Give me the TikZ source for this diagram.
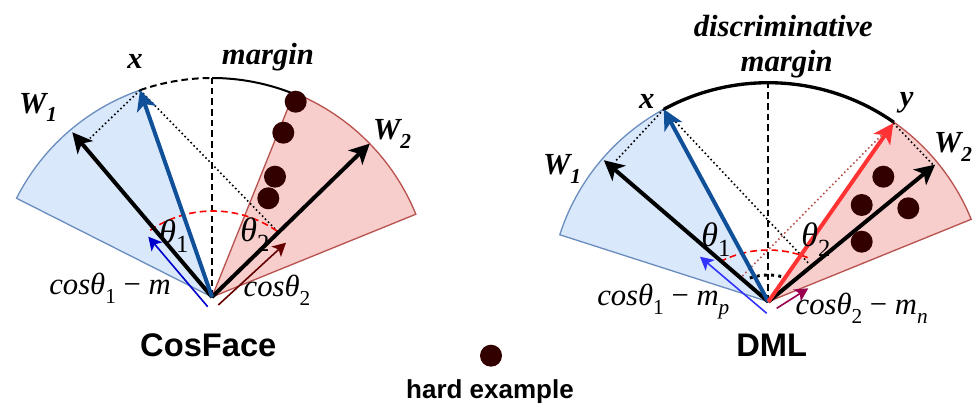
\documentclass[tikz,border=0pt]{standalone}
\usepackage{fontspec}
\setmainfont{Liberation Serif}
\newfontfamily\hsans{Liberation Sans}
\usetikzlibrary{arrows.meta}
\definecolor{bfill}{HTML}{DAE8FC}
\definecolor{bline}{HTML}{6C8EBF}
\definecolor{rfill}{HTML}{F8CECC}
\definecolor{rline}{HTML}{B85450}
\definecolor{xblue}{RGB}{16,80,153}
\definecolor{yred}{HTML}{FF3333}
\definecolor{tblueL}{HTML}{0000CC}
\definecolor{tblueR}{HTML}{3333FF}
\definecolor{tredL}{HTML}{660000}
\definecolor{tredR}{HTML}{99004D}
\definecolor{dotc}{HTML}{330000}
\newcommand\lo[1]{\raisebox{-0.28em}{\fontsize{16}{18}\selectfont #1}}
\newcommand\tlo[1]{\raisebox{-0.28em}{\fontsize{18.5}{20}\selectfont #1}}
\begin{document}
\begin{tikzpicture}[x=0.75pt,y=0.75pt,
  bsec/.style={fill=bfill, draw=bline, line width=1pt},
  rsec/.style={fill=rfill, draw=rline, line width=1pt},
  bigarr/.style={line width=3pt, -{Stealth[length=15pt,width=15pt,inset=4pt]}},
  thinarr/.style={line width=1.2pt, -{Stealth[length=10pt,width=10.5pt,inset=2.5pt]}},
  dotline/.style={line width=1.2pt, dotted},
  dashv/.style={line width=1.5pt, dash pattern=on 5pt off 3pt},
  reddash/.style={red, line width=1.2pt, dash pattern=on 5pt off 3pt},
  hdot/.style={circle, fill=dotc, minimum size=16.5pt, inner sep=0pt},
  lab/.style={font=\fontsize{23}{26}\selectfont\bfseries\itshape, inner sep=0pt, anchor=base},
  mlab/.style={font=\fontsize{23}{26}\selectfont\itshape, inner sep=0pt, anchor=base},
  tlab/.style={font=\fontsize{25.5}{28}\selectfont\itshape, inner sep=0pt, anchor=base},
  title/.style={font=\hsans\fontsize{24.5}{28}\selectfont\bfseries, inner sep=0pt, anchor=base}]
\useasboundingbox (0,0) rectangle (974,403);

% ---------------- Left: CosFace ----------------
\coordinate (L) at (212,106);
\path (L) ++(109.2:219) coordinate (Lx);
\path (L) ++(130.3:216) coordinate (LW1);
\path (L) ++(44.2:220) coordinate (LW2);
\path (L) ++(90:219) coordinate (Ltop);
\coordinate (LpW1) at (90,264.7);
\coordinate (LpW2) at (278,171);
\coordinate (Lc) at (213,80);
\coordinate (Lbs) at (207.7,96.3);
\coordinate (Lbe) at (148.3,166.3);
\coordinate (Lrs) at (218.3,98);
\coordinate (Lre) at (286,160.3);

\filldraw[bsec] (L) -- ++(153.2:219) arc[start angle=153.2, end angle=109.2, radius=219] -- cycle;
\filldraw[rsec] (L) -- ++(68.1:220) arc[start angle=68.1, end angle=22.1, radius=220] -- cycle;
\draw[line width=1.5pt, dash pattern=on 5pt off 3pt] (Lx) arc[start angle=109.2, end angle=90, radius=219];
\draw[line width=1.5pt] (Ltop) arc[start angle=90, end angle=68.1, radius=219];
\draw[dashv] (L) -- (Ltop);
\draw[dotline] (Lx) -- (LpW1);
\draw[dotline] (Lx) -- (LpW2);
\draw[reddash] (Lc) ++(124.1:112) arc[start angle=124.1, end angle=54.5, radius=112];
\draw[bigarr] (L) -- (LW1);
\draw[bigarr] (L) -- (LW2);
\draw[bigarr, xblue] (L) -- (Lx);
\draw[thinarr, tblueL] (Lbs) -- (Lbe);
\draw[thinarr, tredL] (Lrs) -- (Lre);
\node[hdot] (ld1) at (295.7,301.3) {};
\node[hdot] (ld2) at (283.3,270.3) {};
\node[hdot] (ld3) at (275,226.3) {};
\node[hdot] (ld4) at (268.3,204.7) {};

\node[lab] (lxl) at (135,334.7) {x};
\node[lab] (lmar) at (268,338) {margin};
\node[lab] (lw1l) at (38,289.7) {W\lo{1}};
\node[lab] (lw2l) at (392,263) {W\lo{2}};
\node[tlab] (lt1) at (174,159.7) {θ\tlo{\upshape 1}};
\node[tlab] (lt2) at (255,161.3) {θ\tlo{\upshape 2}};
\node[mlab] (lc1) at (110,108) {cosθ\lo{\upshape 1}\hspace{0.25em}{\upshape −}\hspace{0.25em}m};
\node[mlab] (lc2) at (277,106.3) {cosθ\lo{\upshape 2}};
\node[title] (lcos) at (208.3,46.3) {CosFace};

% ---------------- Right: DML ----------------
\coordinate (R) at (768.3,101.3);
\path (R) ++(118.5:219) coordinate (Rx);
\path (R) ++(55:218) coordinate (Ry);
\path (R) ++(139.3:217) coordinate (RW1);
\path (R) ++(39.4:216) coordinate (RW2);
\path (R) ++(90:218) coordinate (Rtop);
\coordinate (RxW1) at (615,241.3);
\coordinate (RxW2) at (808.3,140);
\coordinate (RyW1) at (741.7,126.3);
\coordinate (RyW2) at (933.3,238);
\coordinate (Rc) at (768.3,47.4);
\coordinate (Rc2) at (768.3,69.5);
\coordinate (Rbs) at (766.7,89.7);
\coordinate (Rbe) at (700,146.3);
\coordinate (Rrs) at (776.7,94.7);
\coordinate (Rre) at (808.3,114.7);

\filldraw[bsec] (R) -- ++(162.2:219) arc[start angle=162.2, end angle=118.5, radius=219] -- cycle;
\filldraw[rsec] (R) -- ++(55:219) arc[start angle=55, end angle=22.1, radius=219] -- cycle;
\draw[line width=2.5pt] (Rx) arc[start angle=118.5, end angle=55, radius=219];
\draw[dashv] (R) -- (Rtop);
\draw[dotline] (Rx) -- (RxW1);
\draw[dotline] (Rx) -- (RxW2);
\draw[dotline, rline] (Ry) -- (RyW1);
\draw[dotline] (Ry) -- (RyW2);
\draw[reddash] (Rc) ++(117.2:105.6) arc[start angle=117.2, end angle=68.1, radius=105.6];
\draw[line width=2.2pt, dash pattern=on 2.2pt off 3.2pt] (Rc2) ++(108.4:58.5) arc[start angle=108.4, end angle=71.6, radius=58.5];
\draw[bigarr] (R) -- (RW1);
\draw[bigarr] (R) -- (RW2);
\draw[bigarr, xblue] (R) -- (Rx);
\draw[bigarr, yred] (R) -- (Ry);
\draw[thinarr, tblueR] (Rbs) -- (Rbe);
\draw[thinarr, tredR] (Rrs) -- (Rre);
\node[hdot] (rd1) at (883.3,226.3) {};
\node[hdot] (rd2) at (861.7,198) {};
\node[hdot] (rd3) at (908.3,194.7) {};
\node[hdot] (rd4) at (861.7,161.3) {};

\node[lab] (rdis) at (783.3,366.3) {discriminative};
\node[lab] (rmar) at (786.7,331.3) {margin};
\node[lab] (rxl) at (646.7,294.7) {x};
\node[lab] (ryl) at (906.7,296.3) {y};
\node[lab] (rw1l) at (562,228) {W\lo{1}};
\node[lab] (rw2l) at (953,250) {W\lo{2}};
\node[tlab] (rt1) at (716,156.3) {θ\tlo{\upshape 1}};
\node[tlab] (rt2) at (816,156.3) {θ\tlo{\upshape 2}};
\node[mlab] (rc1) at (663.3,97) {cosθ\lo{\upshape 1}\hspace{0.25em}{\upshape −}\hspace{0.25em}m\lo{p}};
\node[mlab] (rc2) at (861.7,88) {cosθ\lo{\upshape 2}\hspace{0.25em}{\upshape −}\hspace{0.25em}m\lo{n}};
\node[title] (rdml) at (771.7,46.3) {DML};

% ---------------- Legend ----------------
\node[hdot] (legdot) at (491,47.3) {};
\node[font=\hsans\fontsize{19.5}{22}\selectfont\bfseries, inner sep=0pt, anchor=base] (legtxt) at (490,4.7) {hard example};
\end{tikzpicture}
\end{document}
